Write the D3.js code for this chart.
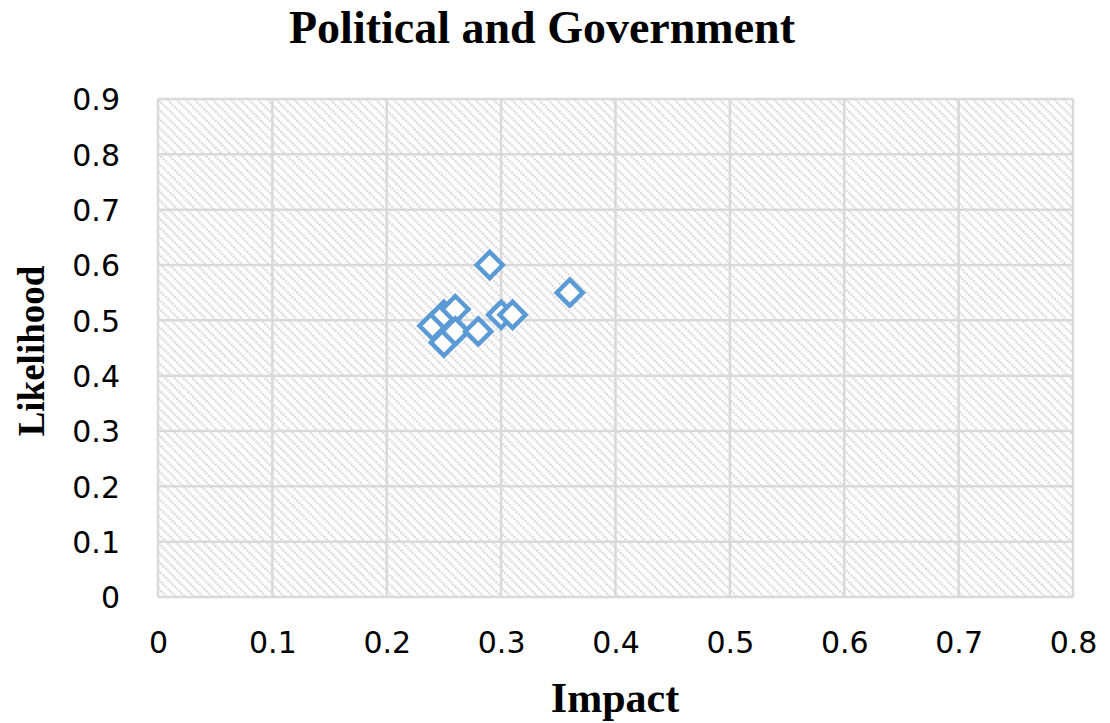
<!DOCTYPE html>
<html>
<head>
<meta charset="utf-8">
<script src="https://cdn.jsdelivr.net/npm/d3@7"></script>
<style>
  html, body { margin: 0; padding: 0; background: #fff; }
  svg { display: block; }
</style>
</head>
<body>
<svg id="chart" width="1110" height="723"></svg>
<script>
// Impact / likelihood of political and government risks
const impact     = [0.24, 0.25, 0.25, 0.26, 0.26, 0.28, 0.29, 0.30, 0.31, 0.36];
const likelihood = [0.49, 0.51, 0.46, 0.52, 0.48, 0.48, 0.60, 0.51, 0.51, 0.55];
const xTicks = [0, 0.1, 0.2, 0.3, 0.4, 0.5, 0.6, 0.7, 0.8];
const yTicks = [0, 0.1, 0.2, 0.3, 0.4, 0.5, 0.6, 0.7, 0.8, 0.9];

const svg = d3.select("#chart");
const plot = { left: 158, right: 1073, top: 99, bottom: 597 };

const x = d3.scaleLinear().domain([0, 0.8]).range([plot.left, plot.right]);
const y = d3.scaleLinear().domain([0, 0.9]).range([plot.bottom, plot.top]);

// dotted diagonal hatch fill for the plot area
const defs = svg.append("defs");
const pat = defs.append("pattern")
  .attr("id", "hatch")
  .attr("patternUnits", "userSpaceOnUse")
  .attr("width", 6.4).attr("height", 6.4)
  .attr("patternTransform", "rotate(45)");
pat.append("rect").attr("width", 6.4).attr("height", 6.4).attr("fill", "#ffffff");
pat.append("line")
  .attr("x1", 0).attr("y1", 3.2).attr("x2", 6.4).attr("y2", 3.2)
  .attr("stroke", "#d6d6d6").attr("stroke-width", 2.4)
  .attr("stroke-dasharray", "2 1.2");

svg.append("rect")
  .attr("x", plot.left).attr("y", plot.top)
  .attr("width", plot.right - plot.left).attr("height", plot.bottom - plot.top)
  .attr("fill", "url(#hatch)");

// gridlines
const gridColor = "#d9d9d9";
svg.append("g").selectAll("line").data(yTicks).join("line")
  .attr("x1", plot.left).attr("x2", plot.right)
  .attr("y1", d => y(d)).attr("y2", d => y(d))
  .attr("stroke", gridColor).attr("stroke-width", 2.5);
svg.append("g").selectAll("line").data(xTicks).join("line")
  .attr("y1", plot.top).attr("y2", plot.bottom)
  .attr("x1", d => x(d)).attr("x2", d => x(d))
  .attr("stroke", gridColor).attr("stroke-width", 2.5);

// axes (labels only; domain lines and ticks hidden)
const tickFont = "'DejaVu Sans', Verdana, sans-serif";
const xAxis = svg.append("g")
  .attr("transform", "translate(0,653)")
  .call(d3.axisBottom(x).tickValues(xTicks).tickFormat(d3.format("")).tickSize(0).tickPadding(0));
const yAxis = svg.append("g")
  .attr("transform", `translate(${plot.left - 38},0)`)
  .call(d3.axisLeft(y).tickValues(yTicks).tickFormat(d3.format("")).tickSize(0).tickPadding(0));
[xAxis, yAxis].forEach(a => {
  a.select(".domain").remove();
  a.selectAll("text")
    .attr("font-family", tickFont)
    .attr("font-size", 30)
    .attr("fill", "#000");
});
xAxis.selectAll("text").attr("y", 0).attr("dy", 0);
yAxis.selectAll("text").attr("dy", "0.36em");

// markers
const s = 13;
const diamond = `M0,${-s}L${s},0L0,${s}L${-s},0Z`;
svg.append("g").selectAll("path")
  .data(impact.map((v, i) => [v, likelihood[i]]))
  .join("path")
  .attr("d", diamond)
  .attr("transform", d => `translate(${x(d[0])},${y(d[1])})`)
  .attr("fill", "#ffffff")
  .attr("stroke", "#5b9bd5")
  .attr("stroke-width", 4.5)
  .attr("stroke-linejoin", "miter");

// titles
const serif = "'Liberation Serif', 'Times New Roman', serif";
svg.append("text")
  .attr("x", 542).attr("y", 43)
  .attr("text-anchor", "middle")
  .attr("font-family", serif).attr("font-weight", "bold").attr("font-size", 46)
  .text("Political and Government");
svg.append("text")
  .attr("x", 615).attr("y", 712)
  .attr("text-anchor", "middle")
  .attr("font-family", serif).attr("font-weight", "bold").attr("font-size", 42)
  .text("Impact");
svg.append("text")
  .attr("transform", "translate(44,351) rotate(-90)")
  .attr("text-anchor", "middle")
  .attr("font-family", serif).attr("font-weight", "bold").attr("font-size", 37)
  .text("Likelihood");
</script>
</body>
</html>
